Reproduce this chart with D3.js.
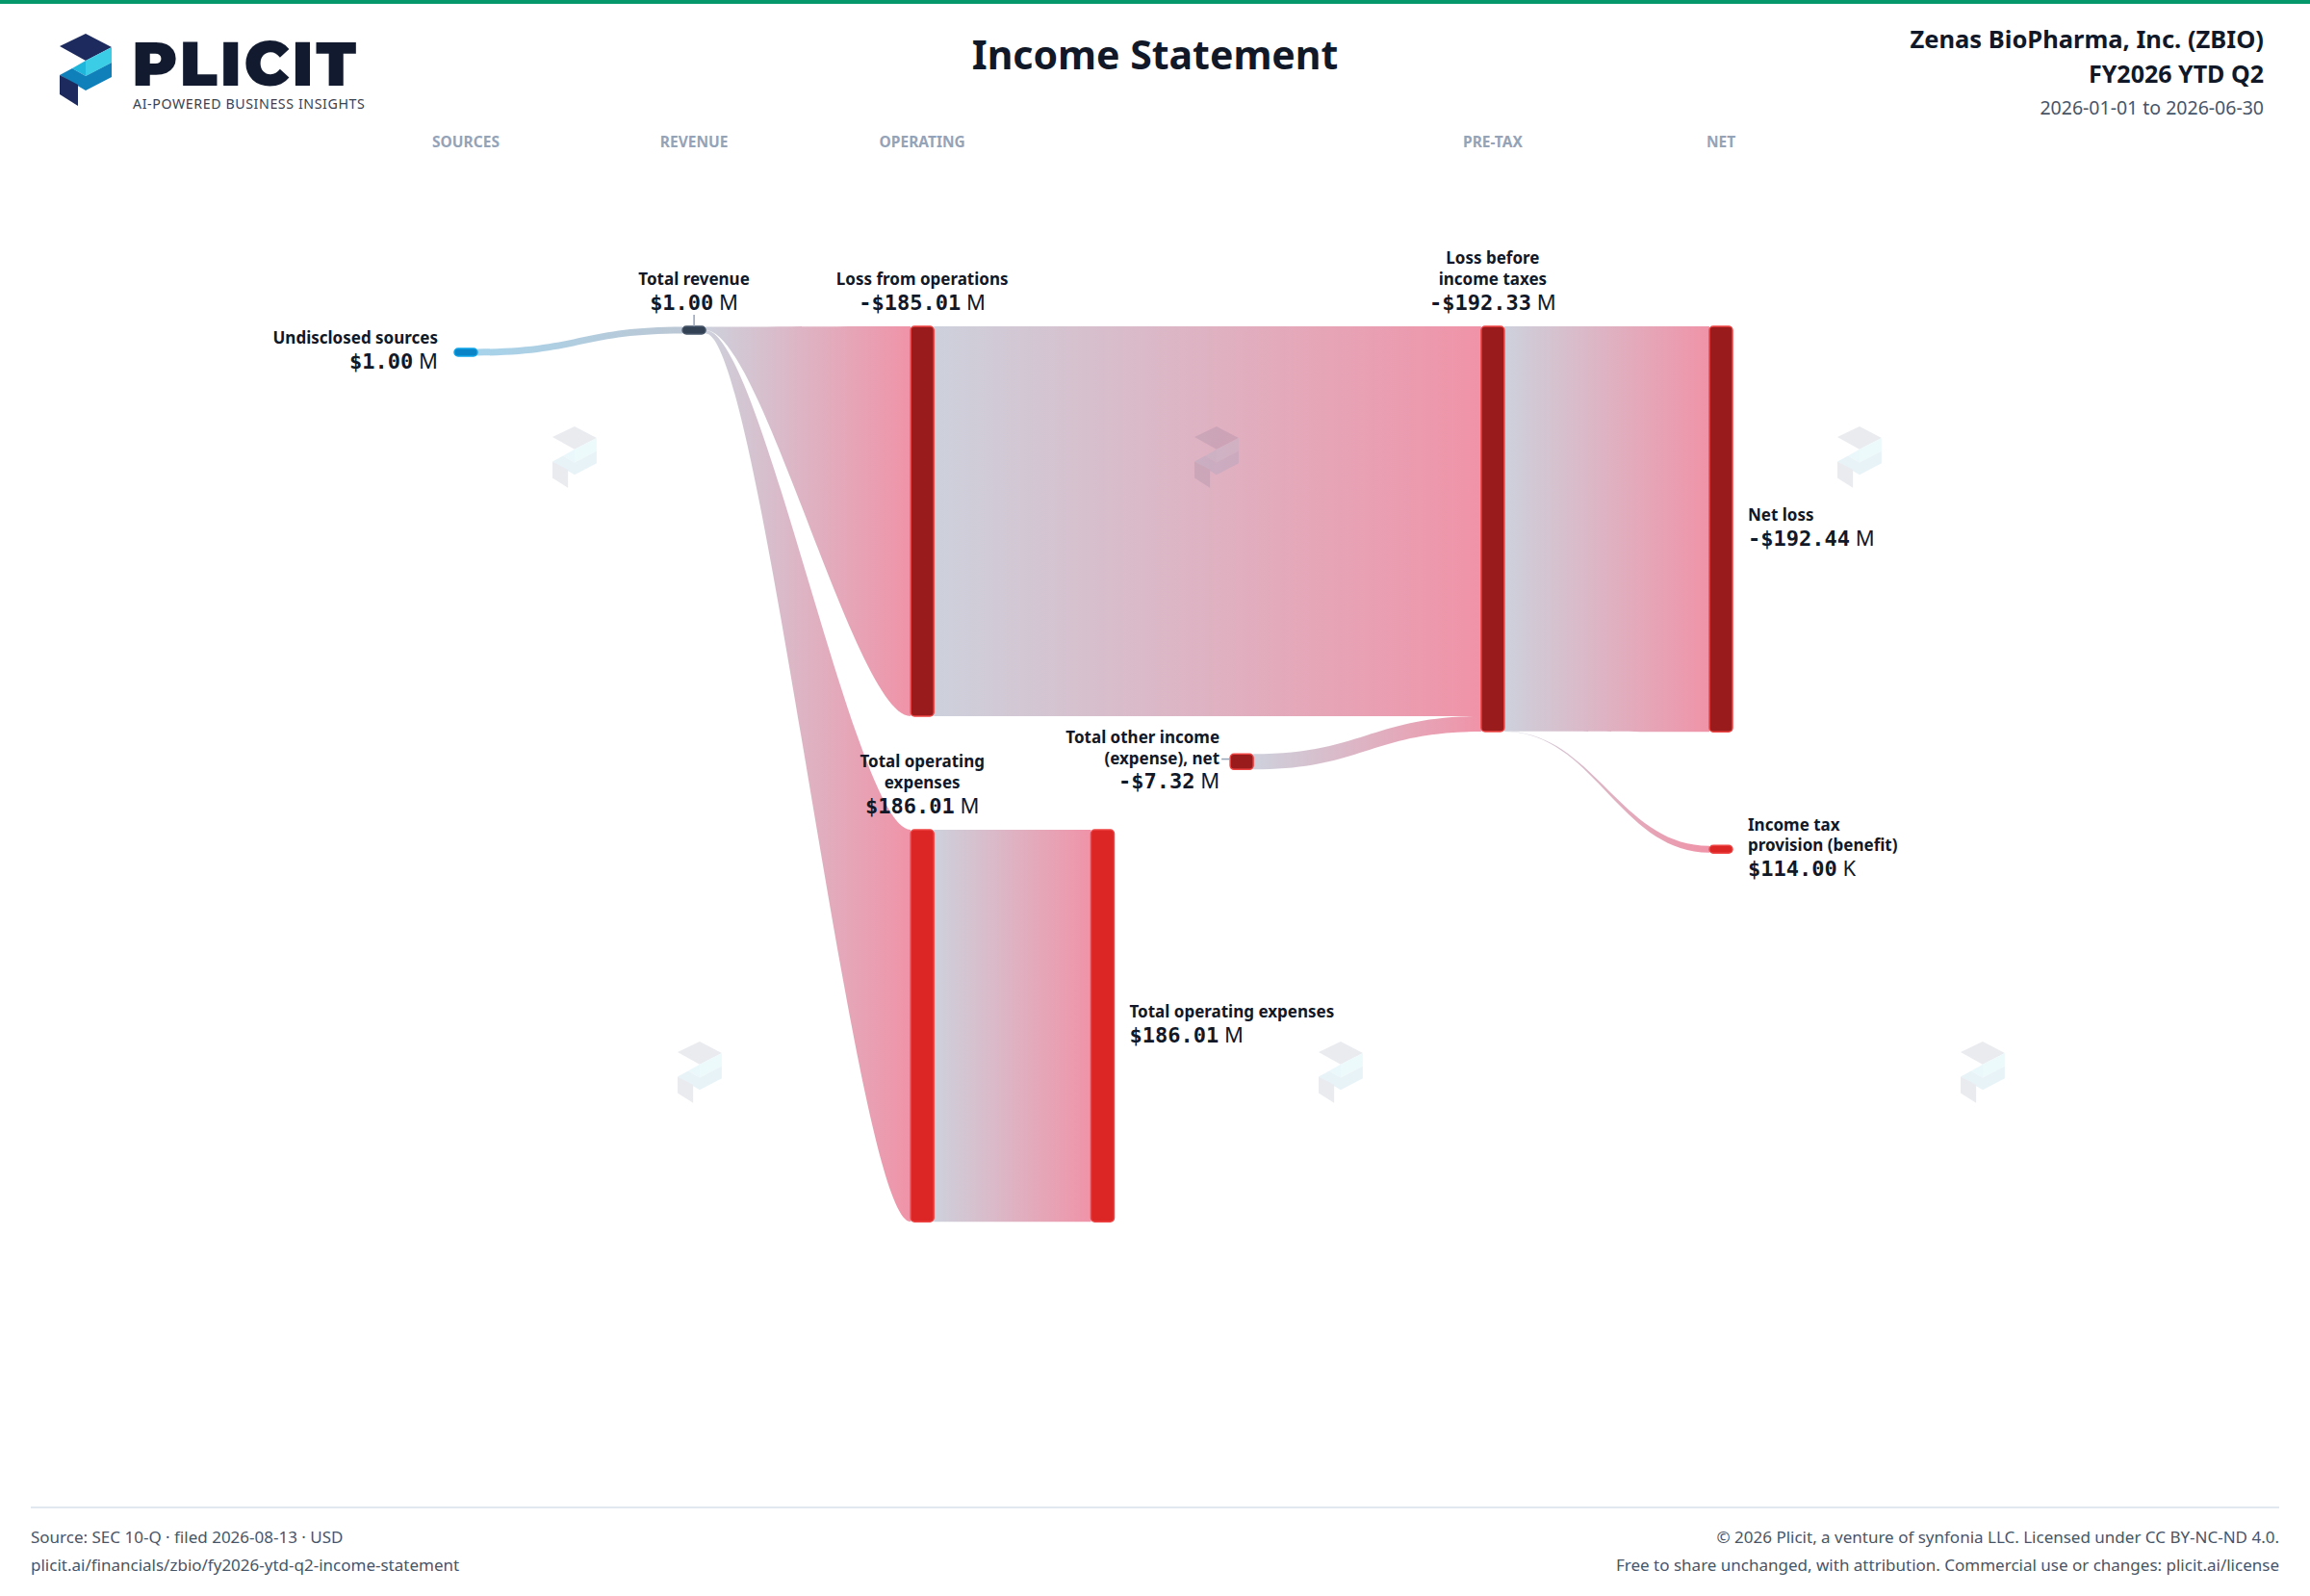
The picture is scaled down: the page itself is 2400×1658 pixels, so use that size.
<!DOCTYPE html>
<html>
<head>
<meta charset="utf-8">
<script src="https://cdn.jsdelivr.net/npm/d3@7"></script>
<style>
  html, body { margin: 0; padding: 0; background: #ffffff; }
  svg { display: block; }
</style>
</head>
<body>
<div class="sankey"></div>
<script>
// Data ============================================================= //
// values in $ millions

var nodeIds = ["src", "rev", "lfo", "opex", "opex2", "oth", "lbt", "net", "tax"];
var nodeLabels = [
  "Undisclosed sources",
  "Total revenue",
  "Loss from operations",
  "Total operating\nexpenses",
  "Total operating expenses",
  "Total other income\n(expense), net",
  "Loss before\nincome taxes",
  "Net loss",
  "Income tax\nprovision (benefit)"
];
var nodeValues = [1.0, 1.0, -185.01, 186.01, 186.01, -7.32, -192.33, -192.44, 0.114];
var nodeKinds = ["source", "revenue", "loss", "expense", "expense", "loss", "loss", "loss", "expense"];
var nodeStages = [0, 1, 2, 2, 2.79, 3.4, 4.5, 5.5, 5.5];

var linkSources = ["src", "rev", "rev", "lfo", "oth", "opex", "lbt", "lbt"];
var linkTargets = ["rev", "lfo", "opex", "lbt", "lbt", "opex2", "net", "tax"];
var linkValues = [1.0, 185.01, 186.01, 185.01, 7.32, 186.01, 192.33, 0.114];

var stageLabels = ["SOURCES", "REVENUE", "OPERATING", "PRE-TAX", "NET"];
var stageIndex = [0, 1, 2, 4.5, 5.5];

// ================================================================== //

var W = 2400,
  H = 1658;
var sans = "'Noto Sans', 'Open Sans', sans-serif";
var mono = "'DejaVu Sans Mono', 'Liberation Mono', monospace";
var ink = "#111827";

var svg = d3
  .select(".sankey")
  .append("svg")
  .attr("width", W)
  .attr("height", H)
  .attr("viewBox", "0 0 " + W + " " + H);

svg.append("rect").attr("width", W).attr("height", H).attr("fill", "#ffffff");
svg.append("rect").attr("width", W).attr("height", 4).attr("fill", "#05986a");

// logo shapes (54 x 75 box)
var logoParts = [
  { pts: [[0, 13], [27, 0], [54, 14], [27, 28]], fill: "#1c2a5e" },
  { pts: [[27, 28], [54, 14], [54, 30], [27, 44]], fill: "#3ccde6" },
  { pts: [[13, 36], [27, 28], [27, 44]], fill: "#1fb6dc" },
  { pts: [[0, 43], [13, 36], [27, 44], [54, 30], [54, 45], [27, 59]], fill: "#0f80b9" },
  { pts: [[0, 43], [19, 53], [19, 75], [0, 63]], fill: "#1c2a5e" }
];

function drawLogo(g) {
  g.selectAll("polygon")
    .data(logoParts)
    .enter()
    .append("polygon")
    .attr("points", function (d) {
      return d.pts.map(function (p) { return p.join(","); }).join(" ");
    })
    .attr("fill", function (d) { return d.fill; });
}

// header
drawLogo(svg.append("g").attr("transform", "translate(62,35)"));
svg.append("text")
  .attr("x", 137).attr("y", 89)
  .attr("font-family", "Montserrat, Lato, " + sans)
  .attr("font-weight", 900)
  .attr("font-size", 64)
  .attr("letter-spacing", 2.6)
  .attr("fill", "#111a2e")
  .text("PLICIT");
svg.append("text")
  .attr("x", 138).attr("y", 113)
  .attr("font-family", sans)
  .attr("font-size", 14.2)
  .attr("letter-spacing", 0.6)
  .attr("fill", "#374151")
  .text("AI-POWERED BUSINESS INSIGHTS");

svg.append("text")
  .attr("x", 1200).attr("y", 72)
  .attr("text-anchor", "middle")
  .attr("font-family", sans).attr("font-weight", 700).attr("font-size", 41)
  .attr("fill", ink)
  .text("Income Statement");

var hdr = [
  { t: "Zenas BioPharma, Inc. (ZBIO)", y: 50, s: 25.5, w: 700, c: ink },
  { t: "FY2026 YTD Q2", y: 86, s: 25, w: 700, c: ink },
  { t: "2026-01-01 to 2026-06-30", y: 119, s: 19.5, w: 400, c: "#475569" }
];
svg.selectAll(".hdr")
  .data(hdr)
  .enter()
  .append("text")
  .attr("x", 2352)
  .attr("y", function (d) { return d.y; })
  .attr("text-anchor", "end")
  .attr("font-family", sans)
  .attr("font-size", function (d) { return d.s; })
  .attr("font-weight", function (d) { return d.w; })
  .attr("fill", function (d) { return d.c; })
  .text(function (d) { return d.t; });

// scales
var xStage = d3.scaleLinear().domain([0, 5.5]).range([484, 1788]);
var yValue = d3.scaleLinear().domain([0, 1]).range([0, 2.189]);

var nodeWidth = 24,
  minNodeH = 8,
  minSlotH = 7,
  topY = 339,
  gapY = 118;

svg.selectAll(".stage")
  .data(stageLabels)
  .enter()
  .append("text")
  .attr("x", function (d, i) { return xStage(stageIndex[i]); })
  .attr("y", 152.5)
  .attr("text-anchor", "middle")
  .attr("font-family", sans).attr("font-weight", 700).attr("font-size", 15.5)
  .attr("fill", "#94a3b8")
  .text(function (d) { return d; });

// nodes + links layout
var nodes = nodeIds.map(function (id, i) {
  var h = yValue(Math.abs(nodeValues[i]));
  return {
    id: id,
    label: nodeLabels[i],
    value: nodeValues[i],
    kind: nodeKinds[i],
    h: Math.max(h, minNodeH),
    slot: Math.max(h, minSlotH),
    x0: xStage(nodeStages[i]) - nodeWidth / 2
  };
});
var byId = {};
nodes.forEach(function (n) { byId[n.id] = n; });

function place(id, y0) {
  byId[id].y0 = y0;
  byId[id].y1 = y0 + byId[id].h;
}
place("rev", topY);
place("src", topY + 23);
place("lfo", topY);
place("lbt", topY);
place("net", topY);
place("opex", byId.lfo.y1 + gapY);
place("opex2", byId.opex.y0);
place("oth", byId.lfo.y1 + gapY / 3);
place("tax", byId.net.y1 + gapY);

var links = linkSources.map(function (s, i) {
  return { source: byId[s], target: byId[linkTargets[i]], value: linkValues[i] };
});

nodes.forEach(function (n) {
  var outs = links.filter(function (l) { return l.source === n; }),
    ins = links.filter(function (l) { return l.target === n; });
  var sOut = d3.sum(outs, function (l) { return l.value; }),
    sIn = d3.sum(ins, function (l) { return l.value; });
  var y = n.y0 + (n.h - n.slot) / 2;
  outs.forEach(function (l) {
    l.sy0 = y;
    y += (n.slot * l.value) / sOut;
    l.sy1 = y;
  });
  y = n.y0 + (n.h - n.slot) / 2;
  ins.forEach(function (l) {
    l.ty0 = y;
    y += (n.slot * l.value) / sIn;
    l.ty1 = y;
  });
});

// curvature shared by links leaving the same node, flatter for steep drops
function dyOf(l) {
  return Math.abs((l.ty0 + l.ty1) / 2 - (l.sy0 + l.sy1) / 2);
}
links.forEach(function (l) {
  var dx = l.target.x0 - l.source.x0 - nodeWidth;
  var dyMax = d3.max(
    links.filter(function (o) { return o.source === l.source; }),
    dyOf
  );
  l.curv = 0.5 / (1 + (0.25 * dyMax) / dx);
});

function ribbon(l) {
  var sx = l.source.x0 + nodeWidth,
    tx = l.target.x0,
    dx = tx - sx;
  var c1 = sx + l.curv * dx,
    c2 = tx - l.curv * dx;
  var p = d3.path();
  p.moveTo(sx, l.sy0);
  p.bezierCurveTo(c1, l.sy0, c2, l.ty0, tx, l.ty0);
  p.lineTo(tx, l.ty1);
  p.bezierCurveTo(c2, l.ty1, c1, l.sy1, sx, l.sy1);
  p.closePath();
  return p.toString();
}

function linkColors(l) {
  if (l.source.kind == "source") return ["#a7d3ea", "#bcc7d4"];
  return ["#cdd1dc", "#f093a8"];
}

var defs = svg.append("defs");
links.forEach(function (l, i) {
  var cols = linkColors(l);
  var grad = defs
    .append("linearGradient")
    .attr("id", "lg" + i)
    .attr("gradientUnits", "userSpaceOnUse")
    .attr("x1", l.source.x0 + nodeWidth)
    .attr("x2", l.target.x0)
    .attr("y1", 0)
    .attr("y2", 0);
  grad.append("stop").attr("offset", "0%").attr("stop-color", cols[0]);
  grad.append("stop").attr("offset", "100%").attr("stop-color", cols[1]);
});

svg.append("g")
  .attr("id", "links")
  .selectAll("path")
  .data(links)
  .enter()
  .append("path")
  .attr("d", ribbon)
  .attr("fill", function (d, i) { return "url(#lg" + i + ")"; });

// watermarks
var markX = [597, 1264, 1932, 727, 1393, 2060];
var markY = [475, 475, 475, 1114, 1114, 1114];
markX.forEach(function (x, i) {
  var g = svg.append("g")
    .attr("transform", "translate(" + (x - 23) + "," + (markY[i] - 32) + ") scale(0.85)")
    .attr("opacity", 0.09);
  drawLogo(g);
});

var kindFill = { source: "#0a84c6", revenue: "#334155", loss: "#991b1b", expense: "#dc2626" };
var kindStroke = { source: "#0ea5e9", revenue: "#475569", loss: "#ef4444", expense: "#ef4444" };

svg.append("g")
  .attr("id", "nodes")
  .selectAll("rect")
  .data(nodes)
  .enter()
  .append("rect")
  .attr("x", function (d) { return d.x0; })
  .attr("y", function (d) { return d.y0; })
  .attr("width", nodeWidth)
  .attr("height", function (d) { return d.h; })
  .attr("rx", 4)
  .attr("fill", function (d) { return kindFill[d.kind]; })
  .attr("stroke", function (d) { return kindStroke[d.kind]; })
  .attr("stroke-width", 1.5);

// labels
var labelSide = {
  src: { side: "left", dx: 17 },
  rev: { side: "top" },
  lfo: { side: "top" },
  opex: { side: "top" },
  opex2: { side: "right", dx: 16 },
  oth: { side: "left", dx: 11 },
  lbt: { side: "top" },
  net: { side: "right", dx: 16 },
  tax: { side: "right", dx: 16 }
};

function money(v) {
  var a = Math.abs(v),
    sign = v < 0 ? "-" : "";
  if (a >= 1) return [sign + "$" + a.toFixed(2), "M"];
  return [sign + "$" + (a * 1000).toFixed(2), "K"];
}

var nameLH = 21.5,
  nameSize = 17,
  valSize = 22;

nodes.forEach(function (n) {
  var cfg = labelSide[n.id];
  var lines = n.label.split("\n");
  var x, anchor, centers = [], valC;
  if (cfg.side == "top") {
    x = n.x0 + nodeWidth / 2;
    anchor = "middle";
    valC = n.y0 - 25;
    lines.forEach(function (t, i) {
      centers.push(valC - 24 - (lines.length - 1 - i) * nameLH);
    });
  } else {
    var c = (n.y0 + n.y1) / 2 - 2.5;
    var span = (lines.length - 1) * nameLH + 24;
    lines.forEach(function (t, i) { centers.push(c - span / 2 + i * nameLH); });
    valC = c + span / 2;
    if (cfg.side == "left") {
      x = n.x0 - cfg.dx;
      anchor = "end";
    } else {
      x = n.x0 + nodeWidth + cfg.dx;
      anchor = "start";
    }
  }
  var g = svg.append("g").attr("class", "label");
  lines.forEach(function (t, i) {
    g.append("text")
      .attr("x", x).attr("y", centers[i])
      .attr("dy", "0.35em")
      .attr("text-anchor", anchor)
      .attr("font-family", sans).attr("font-weight", 700).attr("font-size", nameSize)
      .attr("fill", ink)
      .text(t);
  });
  var m = money(n.value);
  var vt = g.append("text")
    .attr("x", x).attr("y", valC)
    .attr("dy", "0.35em")
    .attr("text-anchor", anchor)
    .attr("fill", ink)
    .attr("font-size", valSize);
  vt.append("tspan").attr("font-family", mono).attr("font-weight", 700).text(m[0]);
  vt.append("tspan").attr("font-family", sans).attr("font-weight", 400).text(" " + m[1]);

  // small connector ticks
  if (n.id == "rev") {
    g.append("line")
      .attr("x1", x).attr("x2", x)
      .attr("y1", valC + 13).attr("y2", n.y0)
      .attr("stroke", "#94a3b8").attr("stroke-width", 1.5);
  }
  if (n.id == "oth") {
    g.append("line")
      .attr("x1", x + 2).attr("x2", n.x0)
      .attr("y1", centers[1] + 1).attr("y2", centers[1] + 1)
      .attr("stroke", "#94a3b8").attr("stroke-width", 1.5);
  }
});

// footer
svg.append("line")
  .attr("x1", 32).attr("x2", 2368)
  .attr("y1", 1566).attr("y2", 1566)
  .attr("stroke", "#e2e8f0").attr("stroke-width", 2);

var foot = [
  { t: "Source: SEC 10-Q · filed 2026-08-13 · USD", x: 32, y: 1603, a: "start" },
  { t: "plicit.ai/financials/zbio/fy2026-ytd-q2-income-statement", x: 32, y: 1632, a: "start" },
  { t: "© 2026 Plicit, a venture of synfonia LLC. Licensed under CC BY-NC-ND 4.0.", x: 2368, y: 1603, a: "end" },
  { t: "Free to share unchanged, with attribution. Commercial use or changes: plicit.ai/license", x: 2368, y: 1632, a: "end" }
];
svg.selectAll(".foot")
  .data(foot)
  .enter()
  .append("text")
  .attr("x", function (d) { return d.x; })
  .attr("y", function (d) { return d.y; })
  .attr("text-anchor", function (d) { return d.a; })
  .attr("font-family", sans)
  .attr("font-size", 17)
  .attr("fill", "#475569")
  .text(function (d) { return d.t; });
</script>
</body>
</html>
